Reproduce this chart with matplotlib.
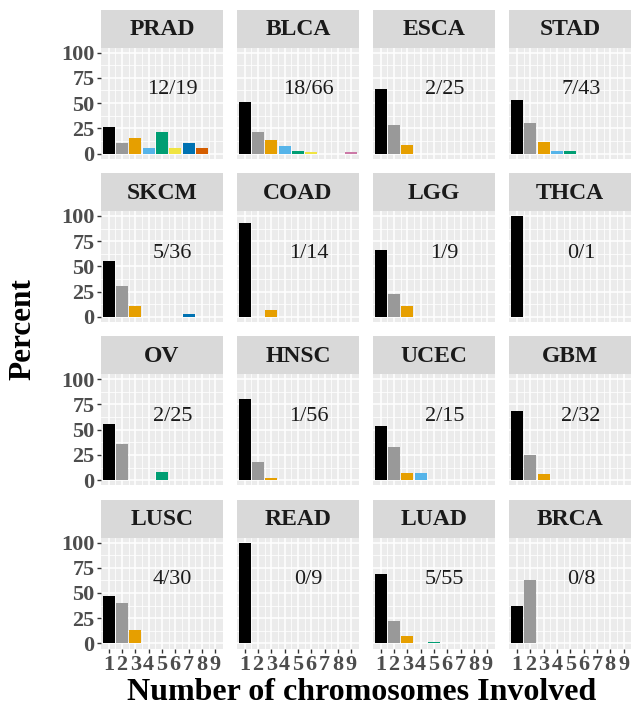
import numpy as np
import matplotlib
matplotlib.use('Agg')
import matplotlib.pyplot as plt

# percent of samples by number of chromosomes involved (1..9)
prad = [26.3, 10.5, 15.8, 5.3, 21.1, 5.3, 10.5, 5.3, 0]
blca = [51.5, 21.2, 13.6, 7.6, 3.0, 1.5, 0, 0, 1.5]
esca = [64, 28, 8, 0, 0, 0, 0, 0, 0]
stad = [53.5, 30.2, 11.6, 2.3, 2.3, 0, 0, 0, 0]
skcm = [55.6, 30.6, 11.1, 0, 0, 0, 2.8, 0, 0]
coad = [92.9, 0, 7.1, 0, 0, 0, 0, 0, 0]
lgg = [66.7, 22.2, 11.1, 0, 0, 0, 0, 0, 0]
thca = [100, 0, 0, 0, 0, 0, 0, 0, 0]
ov = [56, 36, 0, 0, 8, 0, 0, 0, 0]
hnsc = [80.4, 17.9, 1.8, 0, 0, 0, 0, 0, 0]
ucec = [53.3, 33.3, 6.7, 6.7, 0, 0, 0, 0, 0]
gbm = [68.75, 25, 6.25, 0, 0, 0, 0, 0, 0]
lusc = [46.7, 40, 13.3, 0, 0, 0, 0, 0, 0]
read = [100, 0, 0, 0, 0, 0, 0, 0, 0]
luad = [69.1, 21.8, 7.3, 0, 1.8, 0, 0, 0, 0]
brca = [37.5, 62.5, 0, 0, 0, 0, 0, 0, 0]

cancers = ['PRAD', 'BLCA', 'ESCA', 'STAD', 'SKCM', 'COAD', 'LGG', 'THCA',
           'OV', 'HNSC', 'UCEC', 'GBM', 'LUSC', 'READ', 'LUAD', 'BRCA']
values = [prad, blca, esca, stad, skcm, coad, lgg, thca,
          ov, hnsc, ucec, gbm, lusc, read, luad, brca]
labels = ['12/19', '18/66', '2/25', '7/43', '5/36', '1/14', '1/9', '0/1',
          '2/25', '1/56', '2/15', '2/32', '4/30', '0/9', '5/55', '0/8']
nchrom = np.arange(1, 10)
colors = ['#000000', '#999999', '#E69F00', '#56B4E9', '#009E73',
          '#F0E442', '#0072B2', '#D55E00', '#CC79A7']

serif = ['Liberation Serif', 'DejaVu Serif']
plt.rcParams['font.family'] = serif

W, H = 631, 711
fig = plt.figure(figsize=(W / 100, H / 100), dpi=100)

col_left = [100.7, 236.7, 372.7, 509.0]
pw, ph, sh = 122.5, 111.0, 38.0
top0, step = 47.6, 163.3

for i, name in enumerate(cancers):
    r, c = divmod(i, 4)
    x0 = col_left[c]
    ytop = top0 + r * step
    ax = fig.add_axes([x0 / W, 1 - (ytop + ph) / H, pw / W, ph / H])
    ax.set_facecolor('#EBEBEB')
    ax.bar(nchrom, values[i], width=0.9, color=colors, zorder=3)
    ax.set_xlim(0.4, 9.6)
    ax.set_ylim(-5, 105)
    ax.set_xticks(nchrom)
    ax.set_xticks(np.arange(1.5, 9, 1), minor=True)
    ax.set_yticks([0, 25, 50, 75, 100])
    ax.set_yticks([12.5, 37.5, 62.5, 87.5], minor=True)
    ax.grid(which='major', color='white', lw=1.1, zorder=0)
    ax.grid(which='minor', color='white', lw=0.55, zorder=0)
    ax.set_axisbelow(True)
    for s in ax.spines.values():
        s.set_visible(False)
    ax.tick_params(which='minor', length=0)
    ax.tick_params(which='major', length=3, width=1, color='#333333',
                   labelcolor='#4D4D4D', labelsize=16, pad=1.5)
    if c != 0:
        ax.tick_params(axis='y', length=0, labelleft=False)
    if r != 3:
        ax.tick_params(axis='x', length=0, labelbottom=False)
    for lab in ax.get_xticklabels() + ax.get_yticklabels():
        lab.set_fontweight('bold')
    ax.text(5.8, 63, labels[i], ha='center', va='center', fontsize=16,
            color='#1A1A1A', zorder=4)

    sax = fig.add_axes([x0 / W, 1 - ytop / H, pw / W, sh / H])
    sax.set_facecolor('#D9D9D9')
    sax.set_xticks([])
    sax.set_yticks([])
    for s in sax.spines.values():
        s.set_visible(False)
    sax.text(0.5, 0.47, name, ha='center', va='center', fontsize=17,
             fontweight='bold', color='#1A1A1A', transform=sax.transAxes)

fig.text(23 / W, 1 - 329 / H, 'Percent', rotation=90, ha='center',
         va='center', fontsize=22.5, fontweight='bold')
fig.text(362 / W, 1 - 693 / H, 'Number of chromosomes Involved',
         ha='center', va='center', fontsize=23, fontweight='bold')

fig.savefig('out.png', dpi=100)
